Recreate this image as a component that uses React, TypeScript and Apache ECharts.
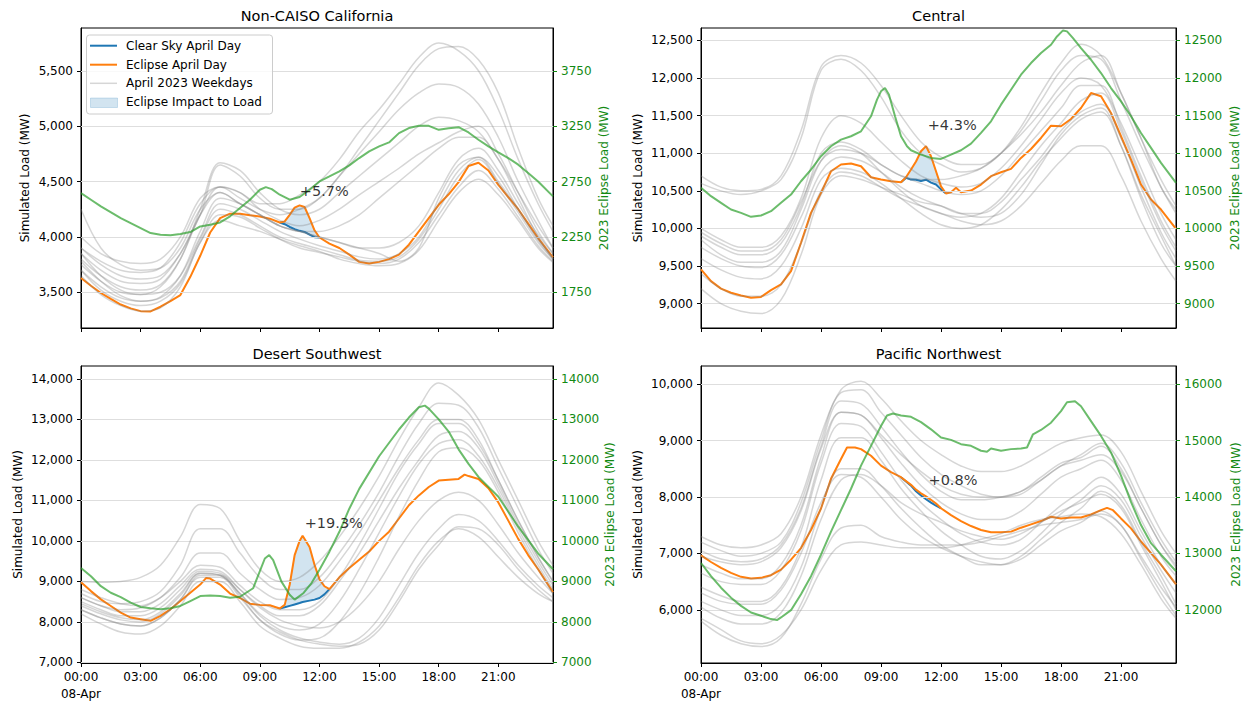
import React, { useEffect, useRef } from 'react';
import * as echarts from 'echarts';

const FONT = 'DejaVu Sans';
const GREEN_TEXT = '#138a13';

const X_TICKS = [0, 3, 6, 9, 12, 15, 18, 21];
const X_TICK_LABELS = ['00:00\n08-Apr', '03:00', '06:00', '09:00', '12:00', '15:00', '18:00', '21:00'];
const X_MAX = 23.75;
const GRAY_T = [0, 1, 2, 3, 4, 5, 6, 7, 8, 9, 10, 11, 12, 13, 14, 15, 16, 17, 18, 19, 20, 21, 22, 23, 23.75];
const LEGEND_LABELS = ['Clear Sky April Day', 'Eclipse April Day', 'April 2023 Weekdays', 'Eclipse Impact to Load'];
const LEFT_NAME = 'Simulated Load (MW)';
const RIGHT_NAME = '2023 Eclipse Load (MW)';

// ---------- Non-CAISO California ----------
const NC_TITLE = 'Non-CAISO California';
const NC_T = [0, 0.5, 1, 1.5, 2, 2.5, 3, 3.5, 4, 4.5, 5, 5.5, 6, 6.5, 7, 7.5, 8, 8.5, 9, 9.5, 10, 10.25, 10.5, 10.75, 11, 11.25, 11.5, 11.75, 12, 12.5, 13, 13.5, 14, 14.5, 15, 15.5, 16, 16.5, 17, 17.5, 18, 18.5, 19, 19.5, 20, 20.5, 21, 21.5, 22, 22.5, 23, 23.75];
const NC_ECLIPSE = [3629, 3560, 3494, 3440, 3390, 3355, 3330, 3328, 3370, 3420, 3475, 3640, 3830, 4040, 4170, 4210, 4210, 4195, 4185, 4165, 4130, 4140, 4200, 4265, 4285, 4270, 4170, 4060, 3995, 3940, 3900, 3840, 3775, 3760, 3775, 3800, 3840, 3930, 4050, 4170, 4290, 4385, 4495, 4640, 4670, 4600, 4470, 4360, 4250, 4120, 3990, 3815];
const NC_CLEAR_T = [10, 10.25, 10.5, 10.75, 11, 11.25, 11.5, 11.75, 12];
const NC_CLEAR = [4130, 4115, 4090, 4070, 4055, 4045, 4020, 3998, 3995];
const NC_GREEN_T = [0, 0.5, 1, 2, 3, 3.5, 4, 4.5, 5, 5.5, 6, 6.5, 7, 7.5, 8, 8.5, 9, 9.3, 9.6, 10, 10.5, 11, 11.5, 12, 12.5, 13, 13.5, 14, 14.5, 15, 15.5, 16, 16.5, 17, 17.5, 18, 18.5, 19, 19.5, 20, 20.5, 21, 21.5, 22, 22.5, 23, 23.75];
const NC_GREEN = [2646, 2586, 2526, 2420, 2330, 2285, 2270, 2265, 2276, 2294, 2345, 2360, 2381, 2436, 2511, 2586, 2676, 2700, 2682, 2631, 2586, 2610, 2676, 2751, 2796, 2842, 2896, 2962, 3022, 3067, 3103, 3187, 3233, 3253, 3253, 3217, 3232, 3241, 3193, 3127, 3067, 3013, 2962, 2902, 2827, 2751, 2616];
const NC_GRAY = [
  [3900, 3780, 3700, 3680, 3720, 3950, 4300, 4450, 4400, 4300, 4300, 4380, 4500, 4700, 4950, 5150, 5380, 5620, 5750, 5680, 5500, 5150, 4700, 4300, 4050],
  [4000, 3850, 3780, 3760, 3800, 4000, 4350, 4450, 4350, 4250, 4200, 4250, 4350, 4550, 4800, 5050, 5300, 5550, 5700, 5720, 5600, 5300, 4800, 4350, 4100],
  [3850, 3700, 3600, 3580, 3620, 3850, 4200, 4650, 4550, 4350, 4250, 4250, 4350, 4550, 4750, 4950, 5150, 5300, 5380, 5350, 5200, 4900, 4500, 4150, 3900],
  [3750, 3600, 3500, 3480, 3550, 3800, 4250, 4670, 4600, 4400, 4250, 4200, 4250, 4400, 4550, 4700, 4850, 5000, 5080, 5050, 4950, 4700, 4350, 4000, 3800],
  [3800, 3650, 3550, 3520, 3570, 3800, 4200, 4450, 4400, 4250, 4150, 4100, 4150, 4250, 4380, 4500, 4620, 4750, 4850, 4950, 5000, 4750, 4400, 4050, 3850],
  [3700, 3550, 3450, 3420, 3460, 3650, 4050, 4350, 4300, 4200, 4100, 4050, 4000, 3950, 3900, 3850, 3780, 3900, 4350, 4650, 4720, 4550, 4250, 3970, 3800],
  [3850, 3650, 3520, 3480, 3500, 3650, 4000, 4300, 4250, 4150, 4050, 3980, 3920, 3870, 3820, 3800, 3850, 4000, 4300, 4600, 4720, 4500, 4250, 3980, 3820],
  [3780, 3600, 3470, 3420, 3450, 3600, 3980, 4250, 4200, 4100, 4000, 3940, 3890, 3840, 3790, 3780, 3820, 3980, 4250, 4550, 4700, 4480, 4220, 3950, 3800],
  [3700, 3520, 3420, 3380, 3420, 3580, 3950, 4200, 4180, 4080, 3980, 3900, 3860, 3820, 3780, 3760, 3800, 3950, 4200, 4450, 4600, 4430, 4180, 3920, 3780],
  [4250, 3900, 3750, 3700, 3720, 3900, 4250, 4400, 4300, 4200, 4100, 4050, 4000, 3950, 3900, 3900, 3950, 4100, 4400, 4700, 4800, 4600, 4300, 4020, 3850],
  [3650, 3480, 3380, 3330, 3360, 3550, 3950, 4150, 4100, 4050, 3980, 3920, 3870, 3800, 3760, 3740, 3760, 3880, 4150, 4400, 4520, 4380, 4150, 3900, 3770],
  [3900, 3750, 3650, 3620, 3650, 3850, 4200, 4400, 4300, 4200, 4100, 4050, 4050, 4100, 4200, 4350, 4500, 4650, 4800, 4900, 4900, 4700, 4400, 4100, 3900],
];
const NC_IMPACT = '+5.7%';
const NC_IMPACT_AT = [12.24, 4415];
const NC_LEFT_TICKS = [3500, 4000, 4500, 5000, 5500];
const NC_RIGHT_TICKS = [1750, 2250, 2750, 3250, 3750];
const NC_LEFT_RANGE = [3178, 5886];
const NC_RIGHT_RANGE = [1428, 4136];

// ---------- Central ----------
const CE_TITLE = 'Central';
const CE_T = [0, 0.5, 1, 1.5, 2, 2.5, 3, 3.5, 4, 4.5, 5, 5.5, 6, 6.5, 7, 7.5, 8, 8.5, 9, 9.5, 10, 10.25, 10.5, 10.75, 11, 11.25, 11.5, 11.75, 12, 12.25, 12.5, 12.75, 13, 13.5, 14, 14.5, 15, 15.5, 16, 16.5, 17, 17.5, 18, 18.5, 19, 19.5, 20, 20.5, 21, 21.5, 22, 22.5, 23, 23.75];
const CE_ECLIPSE = [9456, 9300, 9200, 9146, 9110, 9080, 9090, 9181, 9257, 9433, 9810, 10208, 10473, 10761, 10850, 10863, 10827, 10681, 10650, 10628, 10615, 10680, 10783, 10890, 11027, 11094, 10960, 10760, 10560, 10465, 10482, 10540, 10482, 10504, 10584, 10695, 10748, 10792, 10938, 11057, 11203, 11367, 11358, 11456, 11602, 11800, 11757, 11535, 11226, 10916, 10584, 10385, 10252, 9996];
const CE_CLEAR_T = [10, 10.25, 10.5, 10.75, 11, 11.25, 11.5, 11.75, 12, 12.25];
const CE_CLEAR = [10615, 10672, 10650, 10648, 10630, 10648, 10610, 10585, 10520, 10465];
const CE_GREEN_T = [0, 0.5, 1, 1.5, 2, 2.5, 3, 3.5, 4, 4.5, 5, 5.5, 6, 6.5, 7, 7.5, 8, 8.5, 8.8, 9, 9.2, 9.4, 9.7, 10, 10.3, 10.5, 11, 11.5, 12, 12.5, 13, 13.5, 14, 14.5, 15, 15.5, 16, 16.5, 17, 17.5, 17.8, 18.1, 18.3, 18.6, 19, 19.5, 20, 20.5, 21, 21.5, 22, 22.5, 23, 23.75];
const CE_GREEN = [10540, 10429, 10341, 10252, 10208, 10155, 10172, 10230, 10341, 10451, 10628, 10783, 10960, 11093, 11181, 11226, 11292, 11491, 11712, 11823, 11867, 11779, 11491, 11226, 11093, 11040, 10982, 10938, 10925, 10982, 11040, 11128, 11270, 11425, 11646, 11845, 12044, 12199, 12332, 12442, 12553, 12633, 12620, 12531, 12398, 12243, 12066, 11867, 11690, 11491, 11270, 11071, 10872, 10606];
const CE_GRAY = [
  [10700, 10550, 10500, 10520, 10700, 11300, 12150, 12300, 12200, 11900, 11500, 11150, 10950, 10850, 10850, 11000, 11300, 11700, 12100, 12300, 12250, 11700, 11100, 10550, 10200],
  [10600, 10500, 10450, 10500, 10650, 11200, 12100, 12250, 12100, 11750, 11300, 11000, 10850, 10750, 10800, 11000, 11350, 11800, 12200, 12450, 12300, 11800, 11200, 10650, 10300],
  [10000, 9850, 9750, 9750, 9900, 10400, 11200, 11500, 11400, 11150, 10900, 10700, 10600, 10550, 10600, 10800, 11100, 11450, 11800, 12000, 11900, 11400, 10800, 10200, 9850],
  [9900, 9750, 9650, 9650, 9800, 10300, 11000, 11150, 11050, 10850, 10700, 10600, 10500, 10450, 10500, 10700, 11000, 11300, 11600, 11900, 11900, 11350, 10700, 10100, 9750],
  [9750, 9600, 9500, 9480, 9650, 10150, 10750, 10950, 10900, 10750, 10550, 10400, 10300, 10200, 10200, 10350, 10650, 10950, 11300, 11550, 11650, 11200, 10550, 9950, 9600],
  [9600, 9450, 9350, 9330, 9500, 10000, 10650, 10800, 10750, 10600, 10400, 10200, 10050, 10000, 10050, 10250, 10550, 10900, 11200, 11450, 11550, 11100, 10450, 9900, 9500],
  [9400, 9200, 9100, 9100, 9250, 9800, 10500, 10750, 10700, 10550, 10400, 10300, 10200, 10100, 10050, 10100, 10300, 10600, 10900, 11100, 11100, 10700, 10100, 9600, 9300],
  [9200, 9000, 8900, 8870, 9050, 9650, 10450, 10700, 10650, 10550, 10450, 10350, 10300, 10200, 10150, 10200, 10450, 10850, 11250, 11500, 11600, 11100, 10400, 9800, 9500],
  [9950, 9800, 9700, 9700, 9850, 10350, 10900, 11050, 11000, 10850, 10700, 10650, 10650, 10700, 10800, 11000, 11250, 11550, 11900, 12200, 12300, 11800, 11200, 10550, 10250],
  [9850, 9650, 9550, 9550, 9700, 10250, 10900, 11100, 11000, 10750, 10500, 10300, 10200, 10150, 10200, 10400, 10750, 11100, 11400, 11700, 11800, 11300, 10650, 10050, 9700],
];
const CE_IMPACT = '+4.3%';
const CE_IMPACT_AT = [12.56, 11372];
const CE_LEFT_TICKS = [9000, 9500, 10000, 10500, 11000, 11500, 12000, 12500];
const CE_RIGHT_TICKS = [9000, 9500, 10000, 10500, 11000, 11500, 12000, 12500];
const CE_LEFT_RANGE = [8677, 12665];
const CE_RIGHT_RANGE = [8677, 12665];

// ---------- Desert Southwest ----------
const DS_TITLE = 'Desert Southwest';
const DS_T = [0, 0.5, 1, 1.5, 2, 2.5, 3, 3.5, 4, 4.5, 5, 5.5, 6, 6.3, 6.5, 7, 7.5, 8, 8.5, 9, 9.5, 10, 10.25, 10.5, 10.75, 11, 11.15, 11.5, 11.75, 12, 12.25, 12.5, 13, 13.5, 14, 14.5, 15, 15.5, 16, 16.5, 17, 17.5, 18, 18.5, 19, 19.3, 19.5, 20, 20.5, 21, 21.5, 22, 22.5, 23, 23.75];
const DS_ECLIPSE = [8980, 8760, 8556, 8393, 8230, 8107, 8067, 8026, 8148, 8311, 8515, 8719, 8922, 9086, 9069, 8922, 8700, 8590, 8450, 8420, 8410, 8330, 8420, 8918, 9650, 10000, 10126, 9850, 9410, 9050, 8880, 8810, 9100, 9330, 9534, 9737, 10000, 10227, 10553, 10880, 11123, 11330, 11490, 11510, 11530, 11636, 11600, 11530, 11300, 10950, 10500, 10050, 9650, 9300, 8730];
const DS_CLEAR_T = [10, 10.25, 10.5, 10.75, 11, 11.15, 11.5, 11.75, 12, 12.25, 12.5];
const DS_CLEAR = [8330, 8360, 8395, 8430, 8465, 8490, 8525, 8550, 8590, 8680, 8810];
const DS_GREEN_T = [0, 0.5, 1, 1.5, 2, 2.5, 3, 3.5, 4, 4.5, 5, 5.5, 6, 6.5, 7, 7.5, 8, 8.66, 9.25, 9.47, 9.67, 10.08, 10.5, 10.75, 11.2, 11.6, 12, 12.5, 13, 13.5, 14, 15, 16, 16.5, 17, 17.3, 17.5, 18, 18.5, 19, 19.5, 20, 21, 22, 23, 23.75];
const DS_GREEN = [9330, 9126, 8882, 8719, 8613, 8474, 8368, 8336, 8311, 8336, 8393, 8515, 8637, 8654, 8637, 8596, 8620, 8830, 9565, 9650, 9527, 9000, 8672, 8549, 8714, 8959, 9285, 9734, 10224, 10795, 11284, 12090, 12750, 13045, 13300, 13340, 13265, 13000, 12700, 12260, 11900, 11580, 11090, 10350, 9690, 9300];
const DS_GRAY = [
  [9000, 8980, 9000, 9100, 9400, 10100, 10900, 10800, 10000, 9300, 9000, 9100, 9500, 10100, 10800, 11600, 12500, 13300, 13900, 13600, 13000, 12000, 11000, 10000, 9400],
  [8700, 8500, 8450, 8500, 8750, 9400, 10300, 10300, 9700, 9100, 8800, 8800, 9100, 9700, 10400, 11200, 12100, 12900, 13400, 13350, 12800, 11800, 10800, 9800, 9200],
  [8600, 8400, 8300, 8350, 8600, 9100, 9700, 9700, 9200, 8800, 8550, 8600, 8900, 9500, 10200, 11000, 11800, 12500, 13000, 13000, 12500, 11500, 10500, 9600, 9000],
  [8500, 8300, 8150, 8150, 8350, 8800, 9250, 9200, 8800, 8400, 8150, 8150, 8400, 9000, 9700, 10500, 11300, 12000, 12600, 12700, 12300, 11400, 10400, 9500, 8900],
  [8400, 8200, 8050, 8000, 8200, 8650, 9200, 9150, 8700, 8200, 7900, 7800, 7950, 8500, 9300, 10200, 11100, 11900, 12400, 12500, 12100, 11300, 10300, 9400, 8800],
  [8300, 8100, 7950, 7900, 8100, 8550, 9100, 9100, 8600, 8050, 7700, 7550, 7600, 8000, 8700, 9600, 10600, 11500, 12200, 12300, 12000, 11200, 10200, 9300, 8700],
  [8200, 7950, 7750, 7700, 7900, 8400, 9000, 9000, 8500, 7900, 7600, 7400, 7350, 7350, 7500, 7900, 8600, 9400, 10000, 10300, 10100, 9600, 9100, 8700, 8500],
  [8450, 8250, 8100, 8050, 8250, 8700, 9200, 9150, 8700, 8150, 7800, 7600, 7500, 7450, 7600, 8100, 8900, 9700, 10300, 10650, 10500, 10000, 9400, 8900, 8600],
  [8300, 8100, 7950, 7900, 8100, 8550, 9150, 9150, 8650, 8050, 7750, 7550, 7450, 7400, 7450, 7800, 8500, 9300, 9900, 10350, 10300, 9900, 9300, 8800, 8500],
  [8600, 8400, 8250, 8250, 8450, 8900, 9300, 9250, 8800, 8350, 8050, 7900, 7850, 8000, 8400, 9000, 9800, 10500, 11000, 11200, 11000, 10400, 9700, 9100, 8700],
  [8800, 8600, 8450, 8400, 8600, 9000, 9400, 9350, 8900, 8500, 8300, 8300, 8500, 9100, 9900, 10800, 11700, 12400, 12900, 12900, 12400, 11500, 10500, 9600, 9000],
];
const DS_IMPACT = '+19.3%';
const DS_IMPACT_AT = [12.72, 10452];
const DS_LEFT_TICKS = [7000, 8000, 9000, 10000, 11000, 12000, 13000, 14000];
const DS_RIGHT_TICKS = [7000, 8000, 9000, 10000, 11000, 12000, 13000, 14000];
const DS_LEFT_RANGE = [6985, 14318];
const DS_RIGHT_RANGE = [6985, 14318];

// ---------- Pacific Northwest ----------
const PN_TITLE = 'Pacific Northwest';
const PN_T = [0, 0.5, 1, 1.5, 2, 2.5, 3, 3.5, 4, 4.5, 5, 5.5, 6, 6.5, 7, 7.3, 7.7, 8, 8.5, 9, 9.5, 10, 10.5, 10.75, 11, 11.25, 11.5, 11.75, 12, 12.5, 13, 13.5, 14, 14.5, 15, 15.5, 16, 16.5, 17, 17.5, 18, 18.5, 19, 19.5, 20, 20.3, 20.6, 21, 21.5, 22, 22.5, 23, 23.75];
const PN_ECLIPSE = [6965, 6848, 6743, 6655, 6585, 6556, 6567, 6614, 6713, 6889, 7094, 7415, 7795, 8322, 8672, 8877, 8877, 8848, 8731, 8556, 8439, 8351, 8215, 8130, 8065, 8010, 7950, 7885, 7800, 7678, 7573, 7485, 7415, 7374, 7374, 7386, 7456, 7515, 7573, 7649, 7620, 7637, 7637, 7690, 7766, 7807, 7766, 7620, 7444, 7211, 7006, 6801, 6450];
const PN_CLEAR_T = [10, 10.5, 10.75, 11, 11.25, 11.5, 11.75, 12];
const PN_CLEAR = [8351, 8200, 8100, 8025, 7960, 7900, 7845, 7800];
const PN_GREEN_T = [0, 0.5, 1, 1.5, 2, 2.5, 3, 3.5, 3.8, 4, 4.5, 5, 5.5, 6, 6.5, 7, 7.5, 8, 8.5, 9, 9.3, 9.6, 10, 10.5, 11, 11.5, 12, 12.5, 13, 13.5, 14, 14.3, 14.5, 15, 15.5, 16, 16.3, 16.6, 17, 17.5, 18, 18.3, 18.7, 19, 19.5, 20, 20.5, 21, 21.5, 22, 22.5, 23, 23.75];
const PN_GREEN = [12830, 12597, 12392, 12216, 12070, 11953, 11895, 11836, 11819, 11865, 11994, 12275, 12597, 12977, 13386, 13766, 14146, 14556, 14906, 15257, 15444, 15480, 15444, 15421, 15327, 15199, 15053, 15012, 14936, 14906, 14819, 14801, 14860, 14819, 14848, 14860, 14877, 15111, 15187, 15316, 15521, 15678, 15696, 15608, 15345, 15082, 14789, 14380, 13912, 13503, 13181, 12977, 12684];
const PN_GRAY = [
  [7300, 7150, 7100, 7150, 7350, 8000, 9100, 9900, 10050, 9750, 9350, 9000, 8750, 8550, 8450, 8450, 8550, 8750, 8950, 9050, 9100, 8800, 8100, 7400, 7000],
  [7200, 7050, 6950, 7000, 7200, 7900, 9000, 9850, 9900, 9500, 9100, 8700, 8400, 8200, 8050, 8000, 8050, 8300, 8550, 8750, 8950, 8600, 7900, 7250, 6850],
  [7050, 6900, 6850, 6900, 7150, 7800, 8900, 9700, 9650, 9250, 8800, 8400, 8100, 7950, 7950, 8000, 8100, 8350, 8600, 8700, 8900, 8500, 7800, 7150, 6800],
  [6800, 6650, 6550, 6550, 6800, 7500, 8700, 9500, 9450, 9050, 8600, 8200, 7900, 7700, 7600, 7600, 7750, 8050, 8350, 8500, 8650, 8300, 7600, 6950, 6600],
  [6650, 6500, 6450, 6450, 6700, 7400, 8600, 9300, 9250, 8800, 8300, 7900, 7600, 7350, 7200, 7150, 7250, 7550, 7850, 8100, 8350, 8050, 7400, 6800, 6450],
  [6400, 6250, 6150, 6150, 6400, 7100, 8300, 9050, 9050, 8650, 8150, 7750, 7400, 7150, 6950, 6900, 7050, 7350, 7700, 7950, 8200, 7950, 7300, 6700, 6300],
  [6150, 6000, 5900, 5900, 6100, 6750, 7800, 8500, 8500, 8200, 7800, 7450, 7150, 6950, 6800, 6800, 6950, 7250, 7550, 7800, 8100, 7850, 7200, 6600, 6100],
  [6050, 5850, 5750, 5750, 5950, 6600, 7600, 8300, 8400, 8200, 7900, 7700, 7550, 7400, 7300, 7250, 7350, 7550, 7750, 7900, 8050, 7800, 7150, 6500, 6000],
  [5800, 5550, 5400, 5350, 5500, 6100, 6900, 7450, 7500, 7300, 7200, 7150, 7150, 7150, 7200, 7300, 7400, 7500, 7550, 7600, 7700, 7500, 6900, 6300, 5900],
  [5850, 5650, 5450, 5400, 5550, 6000, 6700, 7150, 7200, 7150, 7100, 7100, 7100, 7150, 7250, 7350, 7500, 7600, 7650, 7700, 7650, 7350, 6800, 6200, 5850],
  [6300, 6150, 6100, 6100, 6350, 7000, 7900, 8400, 8350, 8000, 7600, 7300, 7100, 6950, 6850, 6800, 6900, 7150, 7400, 7550, 7750, 7500, 6950, 6400, 6050],
  [6950, 6850, 6800, 6850, 7100, 7750, 8850, 9500, 9450, 9100, 8750, 8450, 8200, 8050, 8000, 8000, 8100, 8300, 8550, 8650, 8750, 8450, 7800, 7150, 6750],
];
const PN_IMPACT = '+0.8%';
const PN_IMPACT_AT = [12.6, 8293];
const PN_LEFT_TICKS = [6000, 7000, 8000, 9000, 10000];
const PN_RIGHT_TICKS = [12000, 13000, 14000, 15000, 16000];
const PN_LEFT_RANGE = [5058, 10321];
const PN_RIGHT_RANGE = [11058, 16321];

const PANELS = [
  { title: NC_TITLE, t: NC_T, ecl: NC_ECLIPSE, clrT: NC_CLEAR_T, clr: NC_CLEAR, gT: NC_GREEN_T, g: NC_GREEN, gray: NC_GRAY, impact: NC_IMPACT, impactAt: NC_IMPACT_AT, lTicks: NC_LEFT_TICKS, rTicks: NC_RIGHT_TICKS, lRange: NC_LEFT_RANGE, rRange: NC_RIGHT_RANGE },
  { title: CE_TITLE, t: CE_T, ecl: CE_ECLIPSE, clrT: CE_CLEAR_T, clr: CE_CLEAR, gT: CE_GREEN_T, g: CE_GREEN, gray: CE_GRAY, impact: CE_IMPACT, impactAt: CE_IMPACT_AT, lTicks: CE_LEFT_TICKS, rTicks: CE_RIGHT_TICKS, lRange: CE_LEFT_RANGE, rRange: CE_RIGHT_RANGE },
  { title: DS_TITLE, t: DS_T, ecl: DS_ECLIPSE, clrT: DS_CLEAR_T, clr: DS_CLEAR, gT: DS_GREEN_T, g: DS_GREEN, gray: DS_GRAY, impact: DS_IMPACT, impactAt: DS_IMPACT_AT, lTicks: DS_LEFT_TICKS, rTicks: DS_RIGHT_TICKS, lRange: DS_LEFT_RANGE, rRange: DS_RIGHT_RANGE },
  { title: PN_TITLE, t: PN_T, ecl: PN_ECLIPSE, clrT: PN_CLEAR_T, clr: PN_CLEAR, gT: PN_GREEN_T, g: PN_GREEN, gray: PN_GRAY, impact: PN_IMPACT, impactAt: PN_IMPACT_AT, lTicks: PN_LEFT_TICKS, rTicks: PN_RIGHT_TICKS, lRange: PN_LEFT_RANGE, rRange: PN_RIGHT_RANGE },
];

// layout (styles only)
const LAYOUT = [
  { left: 81, top: 28, width: 472, height: 300, showX: false, gapL: 50, gapR: 45, titleY: 16 },
  { left: 701, top: 28, width: 475, height: 300, showX: false, gapL: 57, gapR: 53, titleY: 16 },
  { left: 81, top: 366, width: 472, height: 300, showX: true, gapL: 57, gapR: 51, titleY: 354 },
  { left: 701, top: 366, width: 475, height: 300, showX: true, gapL: 57, gapR: 54, titleY: 354 },
];

const BLUE = '#1f77b4';
const ORANGE = '#ff7f0e';
const GRAY_LINE = 'rgba(128,128,128,0.32)';
const GREEN_LINE = 'rgba(44,160,44,0.7)';
const FILL = 'rgba(31,119,180,0.2)';

function pairs(t: number[], v: number[]) {
  return t.map((x, k) => [x, v[k]]);
}

function buildOption() {
  const grid: any[] = [];
  const xAxis: any[] = [];
  const yAxis: any[] = [];
  const series: any[] = [];
  const graphic: any[] = [];

  PANELS.forEach((p, i) => {
    const L = LAYOUT[i];
    grid.push({ left: L.left, top: L.top, width: L.width, height: L.height, show: true, borderColor: '#000', borderWidth: 1, backgroundColor: 'transparent' });
    xAxis.push({
      type: 'value', gridIndex: i, min: 0, max: X_MAX,
      axisLine: { show: true, onZero: false, lineStyle: { color: '#000', width: 1 } },
      axisTick: { show: true, inside: false, length: 4, customValues: X_TICKS, lineStyle: { color: '#000' } },
      axisLabel: {
        show: L.showX, customValues: X_TICKS,
        formatter: (v: number) => { const k = X_TICKS.indexOf(v); return k >= 0 ? X_TICK_LABELS[k] : ''; },
        color: '#000', fontSize: 12, fontFamily: FONT, margin: 5, lineHeight: 17,
      },
      splitLine: { show: false },
    });
    yAxis.push({
      type: 'value', gridIndex: i, position: 'left', min: p.lRange[0], max: p.lRange[1],
      name: LEFT_NAME, nameLocation: 'middle', nameGap: L.gapL,
      nameTextStyle: { color: '#000', fontSize: 12, fontFamily: FONT },
      axisLine: { show: true, onZero: false, lineStyle: { color: '#000' } },
      axisTick: { show: true, length: 4, customValues: p.lTicks, lineStyle: { color: '#000' } },
      axisLabel: { customValues: p.lTicks, formatter: (v: number) => v.toLocaleString('en-US'), color: '#000', fontSize: 12, fontFamily: FONT, margin: 8 },
      splitLine: { show: false },
    });
    yAxis.push({
      type: 'value', gridIndex: i, position: 'right', min: p.rRange[0], max: p.rRange[1],
      name: RIGHT_NAME, nameLocation: 'middle', nameGap: L.gapR,
      nameTextStyle: { color: GREEN_TEXT, fontSize: 12, fontFamily: FONT },
      axisLine: { show: true, onZero: false, lineStyle: { color: '#000' } },
      axisTick: { show: true, length: 4, customValues: p.rTicks, lineStyle: { color: GREEN_TEXT } },
      axisLabel: { customValues: p.rTicks, formatter: (v: number) => String(v), color: GREEN_TEXT, fontSize: 12, fontFamily: FONT, margin: 8 },
      splitLine: { show: false },
    });

    const li = 2 * i;
    const ri = 2 * i + 1;

    // gridlines
    series.push({
      type: 'line', xAxisIndex: i, yAxisIndex: li, z: 1, silent: true, showSymbol: false,
      data: [[0, p.lRange[0]]], lineStyle: { opacity: 0 },
      markLine: {
        silent: true, symbol: ['none', 'none'], label: { show: false }, animation: false,
        lineStyle: { color: '#dedede', width: 1, type: 'solid' },
        data: p.lTicks.map((v) => ({ yAxis: v })),
      },
    });

    // fill between clear sky and eclipse
    const winT = p.clrT;
    const eclAt = winT.map((t) => p.ecl[p.t.indexOf(t)]);
    series.push({
      type: 'custom', xAxisIndex: i, yAxisIndex: li, z: 2, silent: true,
      data: [[winT[0], p.clr[0]]],
      renderItem: (_params: any, api: any) => {
        const top = winT.map((t, k) => api.coord([t, eclAt[k]]));
        const bot = winT.map((t, k) => api.coord([t, p.clr[k]])).reverse();
        return { type: 'polygon', shape: { points: top.concat(bot) }, style: { fill: FILL, stroke: FILL, lineWidth: 1 } };
      },
    });

    // clear sky
    series.push({
      type: 'line', xAxisIndex: i, yAxisIndex: li, z: 3, silent: true, showSymbol: false,
      data: pairs(p.clrT, p.clr), lineStyle: { color: BLUE, width: 2 },
    });
    // eclipse
    series.push({
      type: 'line', xAxisIndex: i, yAxisIndex: li, z: 4, silent: true, showSymbol: false,
      data: pairs(p.t, p.ecl), lineStyle: { color: ORANGE, width: 2 },
    });
    // weekdays
    p.gray.forEach((row) => {
      series.push({
        type: 'line', xAxisIndex: i, yAxisIndex: li, z: 5, silent: true, showSymbol: false, smooth: 0.35,
        data: pairs(GRAY_T, row), lineStyle: { color: GRAY_LINE, width: 1.5 },
      });
    });
    // 2023 eclipse load
    series.push({
      type: 'line', xAxisIndex: i, yAxisIndex: ri, z: 6, silent: true, showSymbol: false,
      data: pairs(p.gT, p.g), lineStyle: { color: GREEN_LINE, width: 2 },
    });
    // impact annotation
    series.push({
      type: 'scatter', xAxisIndex: i, yAxisIndex: li, z: 7, silent: true, symbolSize: 1,
      itemStyle: { color: 'rgba(0,0,0,0)' },
      data: [p.impactAt],
      label: { show: true, position: 'inside', formatter: p.impact, color: '#000', fontSize: 14.5, fontFamily: FONT },
    });

    graphic.push({
      type: 'text', x: L.left + L.width / 2, y: L.titleY, z: 50,
      style: { text: p.title, fill: '#000', font: `14.5px "${FONT}"`, align: 'center', verticalAlign: 'middle' },
    });
  });

  // legend (top-left panel)
  const lx = 86.5, ly = 35;
  const rows = [45.7, 64.7, 83.3, 102.3];
  graphic.push({ type: 'rect', z: 60, shape: { x: lx, y: ly, width: 186, height: 79, r: 3 }, style: { fill: 'rgba(255,255,255,0.8)', stroke: '#cccccc', lineWidth: 1 } });
  graphic.push({ type: 'line', z: 61, shape: { x1: 90, y1: rows[0], x2: 117, y2: rows[0] }, style: { stroke: BLUE, lineWidth: 2 } });
  graphic.push({ type: 'line', z: 61, shape: { x1: 90, y1: rows[1], x2: 117, y2: rows[1] }, style: { stroke: ORANGE, lineWidth: 2 } });
  graphic.push({ type: 'line', z: 61, shape: { x1: 90, y1: rows[2], x2: 117, y2: rows[2] }, style: { stroke: GRAY_LINE, lineWidth: 1.5 } });
  graphic.push({ type: 'rect', z: 61, shape: { x: 90.5, y: 98, width: 27, height: 9.5 }, style: { fill: FILL, stroke: FILL, lineWidth: 1 } });
  LEGEND_LABELS.forEach((txt, k) => {
    graphic.push({ type: 'text', z: 61, x: 126, y: rows[k], style: { text: txt, fill: '#000', font: `12px "${FONT}"`, align: 'left', verticalAlign: 'middle' } });
  });

  return {
    animation: false,
    backgroundColor: '#ffffff',
    textStyle: { fontFamily: FONT },
    grid, xAxis, yAxis, series, graphic,
  };
}

export default function App() {
  const ref = useRef<HTMLDivElement>(null);
  useEffect(() => {
    document.body.style.margin = '0';
    const chart = echarts.init(ref.current as HTMLDivElement, null, { renderer: 'svg' });
    chart.setOption(buildOption() as any);
    return () => chart.dispose();
  }, []);
  return <div ref={ref} style={{ width: 1244, height: 702, background: '#fff' }} />;
}
